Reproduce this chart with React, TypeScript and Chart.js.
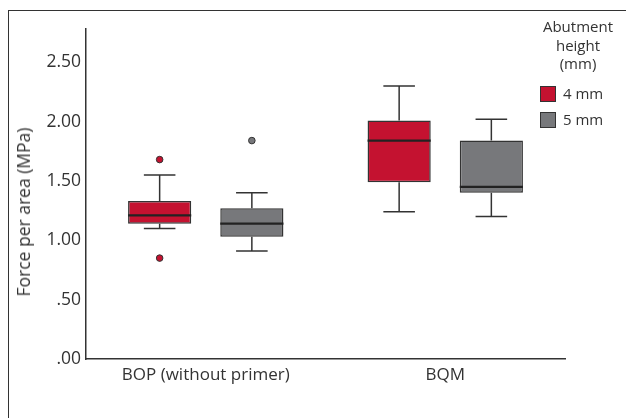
import React, { useEffect, useRef } from "react";
import { Chart, registerables } from "chart.js";

Chart.register(...registerables);

const categories = ["BOP (without primer)", "BQM"];
const seriesNames = ["4 mm", "5 mm"];
const seriesColors = ["#C41230", "#77787B"];

const h4Min = [1.1, 1.24];
const h4Q1 = [1.14, 1.49];
const h4Median = [1.21, 1.84];
const h4Q3 = [1.33, 2.01];
const h4Max = [1.55, 2.3];
const h4Outliers = [[1.68, 0.85], []];

const h5Min = [0.91, 1.2];
const h5Q1 = [1.03, 1.4];
const h5Median = [1.14, 1.45];
const h5Q3 = [1.27, 1.84];
const h5Max = [1.4, 2.02];
const h5Outliers = [[1.84], []];

const yTicks = [0, 0.5, 1, 1.5, 2, 2.5];
const yMax = 2.78;

const FONT = "'Open Sans', 'Noto Sans', sans-serif";
const INK = "#333333";

const stats = [
  { min: h4Min, q1: h4Q1, med: h4Median, q3: h4Q3, max: h4Max, out: h4Outliers },
  { min: h5Min, q1: h5Q1, med: h5Median, q3: h5Q3, max: h5Max, out: h5Outliers },
];

const boxPlugin = {
  id: "boxExtras",
  afterDatasetsDraw(chart: any) {
    const ctx = chart.ctx;
    const y = chart.scales.y;
    stats.forEach((s, di) => {
      const meta = chart.getDatasetMeta(di);
      meta.data.forEach((bar: any, i: number) => {
        const x = bar.x;
        const w = bar.width;
        const cap = w / 2;
        ctx.save();
        ctx.strokeStyle = INK;
        ctx.lineWidth = 1.5;
        ctx.beginPath();
        ctx.moveTo(x, y.getPixelForValue(s.q3[i]));
        ctx.lineTo(x, y.getPixelForValue(s.max[i]));
        ctx.moveTo(x - cap / 2, y.getPixelForValue(s.max[i]));
        ctx.lineTo(x + cap / 2, y.getPixelForValue(s.max[i]));
        ctx.moveTo(x, y.getPixelForValue(s.q1[i]));
        ctx.lineTo(x, y.getPixelForValue(s.min[i]));
        ctx.moveTo(x - cap / 2, y.getPixelForValue(s.min[i]));
        ctx.lineTo(x + cap / 2, y.getPixelForValue(s.min[i]));
        ctx.stroke();
        ctx.lineWidth = 2.2;
        ctx.strokeStyle = "#222222";
        ctx.beginPath();
        ctx.moveTo(x - w / 2, y.getPixelForValue(s.med[i]));
        ctx.lineTo(x + w / 2, y.getPixelForValue(s.med[i]));
        ctx.stroke();
        s.out[i].forEach((v: number) => {
          ctx.beginPath();
          ctx.arc(x, y.getPixelForValue(v), 3.3, 0, Math.PI * 2);
          ctx.fillStyle = seriesColors[di];
          ctx.fill();
          ctx.lineWidth = 1;
          ctx.strokeStyle = INK;
          ctx.stroke();
        });
        ctx.restore();
      });
    });
  },
};

export default function App() {
  const ref = useRef<HTMLCanvasElement>(null);
  useEffect(() => {
    if (!ref.current) return;
    const chart = new Chart(ref.current, {
      type: "bar",
      data: {
        labels: categories,
        datasets: stats.map((s, di) => ({
          label: seriesNames[di],
          data: s.q1.map((q, i) => [q, s.q3[i]]),
          backgroundColor: seriesColors[di],
          borderColor: INK,
          borderWidth: 1.5,
          borderSkipped: false,
          categoryPercentage: 0.77,
          barPercentage: 0.685,
        })),
      },
      options: {
        responsive: false,
        animation: false,
        layout: { padding: { left: 0, top: 29, right: 61, bottom: 0 } },
        plugins: { legend: { display: false }, tooltip: { enabled: false } },
        scales: {
          x: {
            grid: { display: false, drawTicks: false },
            border: { display: true, color: INK, width: 1.5 },
            ticks: { color: INK, font: { family: FONT, size: 17 }, padding: 6 },
            afterFit: (s: any) => {
              s.height = 59;
            },
          },
          y: {
            min: 0,
            max: yMax,
            grid: { display: false, drawTicks: false },
            border: { display: true, color: INK, width: 1.5 },
            afterBuildTicks: (s: any) => {
              s.ticks = yTicks.map((v) => ({ value: v }));
            },
            ticks: {
              color: INK,
              font: { family: FONT, size: 17.5 },
              padding: 5,
              callback: (v: any) => Number(v).toFixed(2).replace(/^0/, ""),
            },
            afterFit: (s: any) => {
              s.width = 86;
            },
          },
        },
      },
      plugins: [boxPlugin],
    } as any);
    return () => chart.destroy();
  }, []);

  return (
    <div
      style={{
        position: "fixed",
        left: 0,
        top: 0,
        width: 626,
        height: 418,
        overflow: "hidden",
        background: "#fff",
        fontFamily: FONT,
        color: INK,
      }}
    >
      <div
        style={{
          position: "absolute",
          left: 8,
          top: 10,
          width: 640,
          height: 430,
          borderTop: "1.5px solid #333",
          borderLeft: "1.5px solid #333",
        }}
      />
      <canvas ref={ref} width={626} height={418} style={{ position: "absolute", left: 0, top: 0 }} />
      <div
        style={{
          position: "absolute",
          left: 23,
          top: 212,
          transform: "translate(-50%, -50%) rotate(-90deg)",
          whiteSpace: "nowrap",
          fontSize: 17.5,
        }}
      >
        Force per area (MPa)
      </div>
      <div
        style={{
          position: "absolute",
          left: 538,
          top: 17,
          width: 80,
          textAlign: "center",
          fontSize: 15,
          lineHeight: "18.5px",
        }}
      >
        Abutment
        <br />
        height
        <br />
        (mm)
      </div>
      {seriesNames.map((n, i) => (
        <div
          key={n}
          style={{
            position: "absolute",
            left: 540,
            top: 85 + i * 26,
            display: "flex",
            alignItems: "center",
            fontSize: 15,
            lineHeight: "17px",
          }}
        >
          <span
            style={{
              display: "inline-block",
              width: 14,
              height: 14,
              background: seriesColors[i],
              border: "1.5px solid #333",
              marginRight: 7,
            }}
          />
          {n}
        </div>
      ))}
    </div>
  );
}
